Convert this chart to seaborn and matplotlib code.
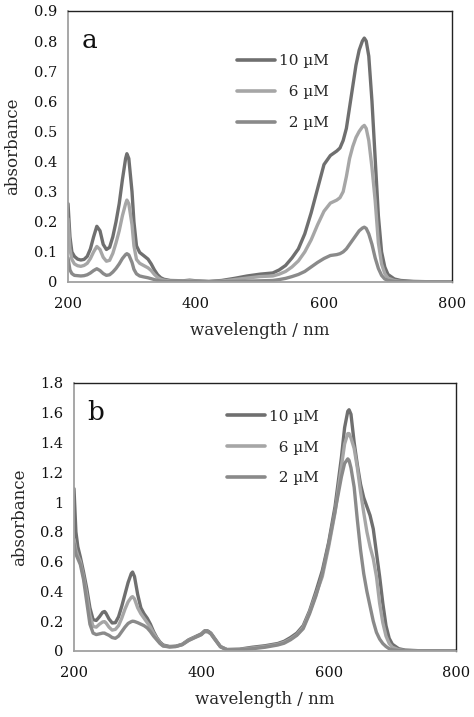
import pandas as pd
import numpy as np
import matplotlib
matplotlib.use("Agg")
import matplotlib.pyplot as plt
import seaborn as sns

# concentrations / legend
conc = ["10 µM", "6 µM", "2 µM"]
legend_labels = ["10 µM", "\u20076 µM", "\u20072 µM"]
cores = {"10 µM": "#6f6f6f", "6 µM": "#a6a6a6", "2 µM": "#8a8a8a"}

# ---- panel a ----
wl_a = [200, 203, 206, 210, 215, 220, 225, 230, 235, 240, 245, 250, 255, 260, 265,
        270, 275, 280, 285, 290, 292, 295, 300, 303, 307, 312, 318, 325, 330, 335,
        340, 345, 350, 360, 380, 390, 400, 420, 440, 460, 480, 500, 520, 530, 540,
        550, 560, 570, 580, 590, 600, 610, 620, 625, 630, 635, 640, 645, 650, 655,
        660, 663, 666, 670, 675, 680, 685, 690, 695, 700, 710, 720, 740, 760, 800]
a_10 = [0.26, 0.15, 0.10, 0.085, 0.076, 0.073, 0.075, 0.085, 0.11, 0.15, 0.185, 0.17, 0.125, 0.108, 0.115,
        0.15, 0.20, 0.26, 0.34, 0.41, 0.426, 0.41, 0.30, 0.20, 0.12, 0.098, 0.088, 0.076, 0.06, 0.04,
        0.024, 0.014, 0.009, 0.005, 0.004, 0.006, 0.004, 0.002, 0.005, 0.012, 0.02, 0.026, 0.03, 0.04, 0.055,
        0.08, 0.11, 0.16, 0.23, 0.31, 0.39, 0.42, 0.435, 0.445, 0.47, 0.51, 0.58, 0.65, 0.72, 0.77,
        0.80, 0.81, 0.80, 0.75, 0.60, 0.41, 0.22, 0.10, 0.05, 0.025, 0.01, 0.005, 0.002, 0.001, 0.0]
a_6 = [0.21, 0.11, 0.075, 0.06, 0.054, 0.052, 0.055, 0.062, 0.078, 0.10, 0.118, 0.108, 0.082, 0.069, 0.072,
       0.095, 0.13, 0.17, 0.22, 0.26, 0.272, 0.26, 0.19, 0.12, 0.075, 0.062, 0.055, 0.047, 0.038, 0.025,
       0.015, 0.009, 0.006, 0.003, 0.003, 0.004, 0.003, 0.001, 0.003, 0.008, 0.013, 0.018, 0.02, 0.026, 0.035,
       0.05, 0.07, 0.10, 0.14, 0.19, 0.235, 0.262, 0.272, 0.28, 0.30, 0.35, 0.41, 0.45, 0.48, 0.50,
       0.515, 0.52, 0.51, 0.47, 0.38, 0.27, 0.13, 0.06, 0.028, 0.013, 0.005, 0.002, 0.001, 0.001, 0.0]
a_2 = [0.08, 0.04, 0.028, 0.022, 0.021, 0.02, 0.021, 0.024, 0.03, 0.038, 0.044, 0.038, 0.028, 0.022, 0.024,
       0.033, 0.045, 0.06, 0.078, 0.091, 0.094, 0.09, 0.065, 0.042, 0.027, 0.02, 0.017, 0.014, 0.011, 0.008,
       0.005, 0.003, 0.002, 0.001, 0.001, 0.001, 0.001, 0.0, 0.001, 0.002, 0.003, 0.004, 0.005, 0.008, 0.012,
       0.018, 0.025, 0.035, 0.05, 0.065, 0.078, 0.088, 0.091, 0.094, 0.10, 0.11, 0.125, 0.14, 0.155, 0.17,
       0.179, 0.182, 0.178, 0.16, 0.125, 0.08, 0.045, 0.022, 0.01, 0.005, 0.002, 0.001, 0.0, 0.0, 0.0]

# ---- panel b ----
wl_b = [200, 203, 206, 210, 215, 220, 225, 230, 235, 240, 245, 248, 250, 255, 260, 265,
        270, 275, 280, 285, 290, 292, 295, 300, 305, 310, 315, 320, 325, 330, 335, 340,
        350, 360, 370, 380, 390, 395, 400, 405, 410, 415, 420, 430, 440, 460, 480, 500,
        520, 530, 540, 550, 560, 570, 580, 590, 600, 610, 620, 625, 630, 632, 635, 640,
        645, 650, 655, 660, 665, 670, 675, 680, 685, 690, 695, 700, 710, 720, 740, 760, 800]
b_10 = [1.09, 0.80, 0.70, 0.63, 0.53, 0.42, 0.29, 0.21, 0.205, 0.23, 0.26, 0.265, 0.255, 0.215, 0.188, 0.19,
        0.23, 0.30, 0.38, 0.46, 0.52, 0.53, 0.50, 0.38, 0.29, 0.25, 0.22, 0.18, 0.13, 0.09, 0.06, 0.04,
        0.03, 0.032, 0.045, 0.075, 0.095, 0.105, 0.115, 0.135, 0.135, 0.12, 0.09, 0.03, 0.01, 0.012, 0.025, 0.035,
        0.05, 0.065, 0.09, 0.12, 0.17, 0.27, 0.40, 0.54, 0.73, 0.97, 1.30, 1.50, 1.61, 1.62, 1.59, 1.40,
        1.25, 1.12, 1.03, 0.97, 0.91, 0.82, 0.66, 0.50, 0.32, 0.17, 0.085, 0.045, 0.015, 0.006, 0.002, 0.001, 0.0]
b_6 = [0.75, 0.68, 0.64, 0.60, 0.50, 0.38, 0.24, 0.165, 0.16, 0.18, 0.195, 0.197, 0.19, 0.16, 0.14, 0.145,
       0.17, 0.22, 0.28, 0.33, 0.36, 0.365, 0.35, 0.29, 0.25, 0.22, 0.19, 0.16, 0.12, 0.085, 0.055, 0.035,
       0.028, 0.03, 0.043, 0.072, 0.092, 0.10, 0.11, 0.13, 0.13, 0.115, 0.085, 0.028, 0.008, 0.01, 0.02, 0.03,
       0.045, 0.058, 0.08, 0.11, 0.16, 0.26, 0.38, 0.50, 0.70, 0.93, 1.24, 1.39, 1.46, 1.46, 1.43, 1.36,
       1.23, 1.07, 0.93, 0.80, 0.70, 0.62, 0.50, 0.32, 0.19, 0.10, 0.05, 0.025, 0.008, 0.003, 0.001, 0.0, 0.0]
b_2 = [0.72, 0.65, 0.62, 0.58, 0.48, 0.33, 0.18, 0.12, 0.11, 0.115, 0.12, 0.12, 0.115, 0.105, 0.09, 0.085,
       0.10, 0.13, 0.16, 0.185, 0.197, 0.20, 0.198, 0.19, 0.18, 0.17, 0.155, 0.13, 0.10, 0.075, 0.05, 0.033,
       0.027, 0.03, 0.042, 0.07, 0.09, 0.10, 0.11, 0.13, 0.13, 0.115, 0.085, 0.028, 0.008, 0.008, 0.015, 0.025,
       0.04, 0.052, 0.075, 0.105, 0.15, 0.25, 0.37, 0.52, 0.72, 0.94, 1.17, 1.26, 1.29, 1.28, 1.23, 1.10,
       0.88, 0.68, 0.52, 0.40, 0.30, 0.20, 0.125, 0.08, 0.05, 0.03, 0.015, 0.008, 0.003, 0.001, 0.0, 0.0, 0.0]


def longo(wl, series):
    partes = []
    for nome, vals in zip(conc, series):
        partes.append(pd.DataFrame({"wl": wl, "abs": vals, "conc": nome}))
    return pd.concat(partes, ignore_index=True)


df_a = longo(wl_a, [a_10, a_6, a_2])
df_b = longo(wl_b, [b_10, b_6, b_2])

sns.set_style("white")
plt.rcParams["font.family"] = ["DejaVu Serif"]
plt.rcParams["font.size"] = 10.5
plt.rcParams["lines.solid_joinstyle"] = "round"
plt.rcParams["lines.solid_capstyle"] = "round"

fig = plt.figure(figsize=(4.74, 7.17), dpi=100)
ax_a = fig.add_axes([0.1435, 0.6067, 0.810, 0.378])
ax_b = fig.add_axes([0.1561, 0.0921, 0.806, 0.3738])


def desenha(ax, df, ymax, ystep, letra, leg_xy, ytick_fmt, ylpad):
    sns.lineplot(data=df, x="wl", y="abs", hue="conc", hue_order=conc,
                 palette=cores, linewidth=2.4, estimator=None, sort=False, ax=ax)
    ax.set_xlim(200, 800)
    ax.set_ylim(0, ymax)
    ax.set_xticks([200, 400, 600, 800])
    yt = np.arange(0, ymax + ystep / 2, ystep)
    ax.set_yticks(yt)
    ax.set_yticklabels([ytick_fmt(v) for v in yt])
    ax.set_xlabel("wavelength / nm", fontsize=12, labelpad=8)
    ax.set_ylabel("absorbance", fontsize=12, labelpad=ylpad)
    for s in ["top", "right"]:
        ax.spines[s].set_color("#222222")
        ax.spines[s].set_linewidth(1.0)
    for s in ["left", "bottom"]:
        ax.spines[s].set_color("#a0a0a0")
        ax.spines[s].set_linewidth(1.3)
    ax.tick_params(axis="both", direction="out", length=4, width=1,
                   color="#a0a0a0", labelsize=10.5, pad=4, labelcolor="#111111")
    ax.tick_params(axis="x", pad=7)
    ax.text(0.035, 0.89, letra, transform=ax.transAxes, fontsize=19,
            ha="left", va="center", color="#111111")
    h, _ = ax.get_legend_handles_labels()
    leg = ax.legend(h, legend_labels, loc="upper left", bbox_to_anchor=leg_xy,
                    frameon=False, borderpad=0, borderaxespad=0, handlelength=2.5,
                    handletextpad=0.25, labelspacing=1.1, fontsize=11)
    for ln in leg.get_lines():
        ln.set_linewidth(2.6)


def fmt_a(v):
    return "0" if v == 0 else f"{v:.1f}"


def fmt_b(v):
    if abs(v) < 1e-9:
        return "0"
    if abs(v - 1) < 1e-9:
        return "1"
    return f"{v:.1f}"


desenha(ax_a, df_a, 0.9, 0.1, "a", (0.44, 0.84), fmt_a, 9)
desenha(ax_b, df_b, 1.8, 0.2, "b", (0.40, 0.90), fmt_b, 8)

fig.savefig("out.png", dpi=100)
